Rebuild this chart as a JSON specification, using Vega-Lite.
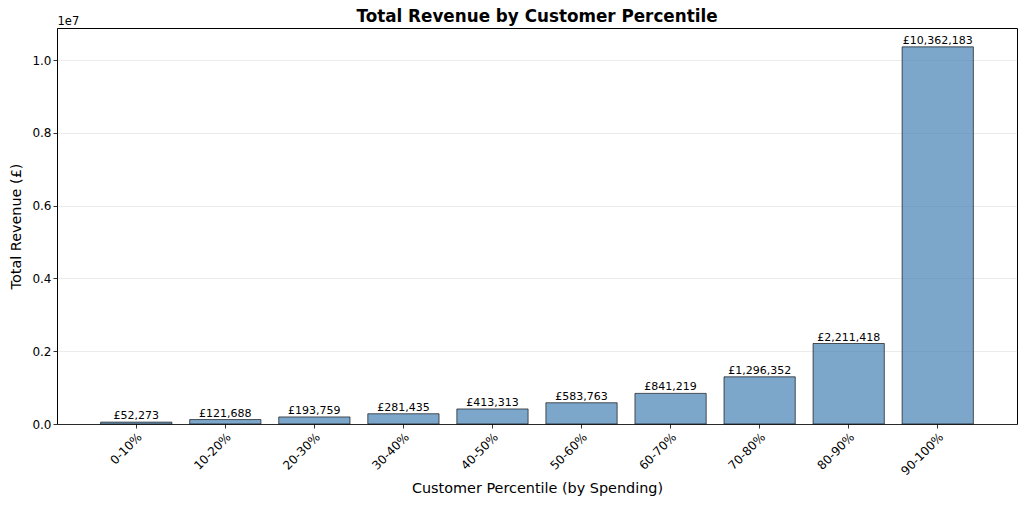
{
  "$schema": "https://vega.github.io/schema/vega-lite/v6.json",
  "width": 960,
  "height": 396,
  "autosize": {"type": "none"},
  "padding": {"left": 57, "top": 28, "right": 7, "bottom": 83},
  "config": {
    "font": "DejaVu Sans",
    "view": {"stroke": "black", "strokeWidth": 1},
    "locale": {
      "number": {"decimal": ".", "thousands": ",", "grouping": [3], "currency": ["£", ""]}
    },
    "axis": {
      "labelFont": "DejaVu Sans",
      "titleFont": "DejaVu Sans",
      "labelFontSize": 12,
      "titleFontSize": 14.4,
      "titleFontWeight": "normal",
      "labelColor": "black",
      "titleColor": "black",
      "tickColor": "black",
      "tickSize": 4,
      "tickWidth": 0.8,
      "domain": false
    }
  },
  "title": {
    "text": "Total Revenue by Customer Percentile",
    "font": "DejaVu Sans",
    "fontSize": 16.8,
    "fontWeight": "bold",
    "color": "black",
    "offset": -11
  },
  "data": {
    "values": [
      {"percentile": "0-10%", "revenue": 52273},
      {"percentile": "10-20%", "revenue": 121688},
      {"percentile": "20-30%", "revenue": 193759},
      {"percentile": "30-40%", "revenue": 281435},
      {"percentile": "40-50%", "revenue": 413313},
      {"percentile": "50-60%", "revenue": 583763},
      {"percentile": "60-70%", "revenue": 841219},
      {"percentile": "70-80%", "revenue": 1296352},
      {"percentile": "80-90%", "revenue": 2211418},
      {"percentile": "90-100%", "revenue": 10362183}
    ]
  },
  "layer": [
    {
      "mark": {
        "type": "bar",
        "fill": "steelblue",
        "fillOpacity": 0.7,
        "stroke": "black",
        "strokeOpacity": 0.8,
        "strokeWidth": 0.8
      },
      "encoding": {
        "x": {
          "field": "percentile",
          "type": "ordinal",
          "sort": null,
          "scale": {"paddingInner": 0.2, "paddingOuter": 0.49},
          "axis": {
            "title": "Customer Percentile (by Spending)",
            "labelAngle": -45,
            "labelAlign": "right",
            "labelBaseline": "top",
            "labelPadding": 3,
            "titlePadding": 5,
            "grid": false
          }
        },
        "y": {
          "field": "revenue",
          "type": "quantitative",
          "scale": {"domain": [0, 10880292], "nice": false},
          "axis": {
            "title": "Total Revenue (£)",
            "values": [0, 2000000, 4000000, 6000000, 8000000, 10000000],
            "labelExpr": "format(datum.value / 10000000, '.1f')",
            "titlePadding": 8,
            "grid": true,
            "gridColor": "#b0b0b0",
            "gridOpacity": 0.3,
            "gridWidth": 0.8
          }
        }
      }
    },
    {
      "mark": {"type": "text", "baseline": "bottom", "fontSize": 11, "dy": -1, "color": "black"},
      "encoding": {
        "x": {
          "field": "percentile",
          "type": "ordinal",
          "sort": null,
          "axis": {
            "orient": "top",
            "labels": false,
            "ticks": false,
            "grid": false,
            "title": "1e7",
            "titleAnchor": "start",
            "titleAlign": "left",
            "titleFontSize": 11.5,
            "titlePadding": 2
          }
        },
        "y": {"field": "revenue", "type": "quantitative"},
        "text": {"field": "revenue", "type": "quantitative", "format": "$,.0f"}
      }
    }
  ],
  "resolve": {"axis": {"x": "independent"}}
}
